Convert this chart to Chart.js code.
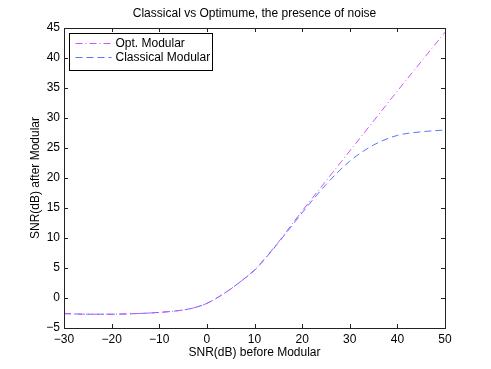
<!DOCTYPE html>
<html>
<head>
<meta charset="utf-8">
<script src="https://cdn.jsdelivr.net/npm/chart.js@4.4.1/dist/chart.umd.min.js"></script>
<style>
  html, body { margin: 0; padding: 0; background: #fff; }
  #wrap { width: 491px; height: 369px; }
</style>
</head>
<body>
<div id="wrap"><canvas id="snrChart" width="491" height="369"></canvas></div>
<script>
var chartTitle = 'Classical vs Optimume, the presence of noise';
var xTitle = 'SNR(dB) before Modular';
var yTitle = 'SNR(dB) after Modular';

var snrIn = [-30, -25, -20, -15, -10, -5, -2.5, 0, 2.5, 5, 7.5, 10, 12.5, 15, 17.5, 20, 25, 30, 35, 40, 45, 50];
var optModular = [-2.6, -2.7, -2.7, -2.6, -2.4, -2.0, -1.6, -0.9, 0.2, 1.5, 3.0, 4.7, 6.9, 9.3, 11.9, 14.5, 19.5, 24.5, 29.5, 34.5, 39.4, 44.3];
var classicalModular = [-2.6, -2.7, -2.7, -2.6, -2.4, -2.0, -1.6, -0.9, 0.2, 1.5, 3.0, 4.6, 6.8, 9.2, 11.7, 14.2, 18.9, 22.8, 25.5, 27.1, 27.7, 28.0];

var xTicks = [-30, -20, -10, 0, 10, 20, 30, 40, 50];
var yTicks = [-5, 0, 5, 10, 15, 20, 25, 30, 35, 40, 45];

var font = 'Liberation Sans, Arial, Helvetica, sans-serif';

function toPoints(ys) {
  return snrIn.map(function (x, i) { return { x: x, y: ys[i] }; });
}
function minus(v) {
  return String(v).replace('-', '\u2212');
}

// matlab style box, inward ticks, title and legend
var matlabFrame = {
  id: 'matlabFrame',
  afterDraw: function (chart) {
    var ctx = chart.ctx;
    var a = chart.chartArea;
    var xs = chart.scales.x, ys = chart.scales.y;
    ctx.save();
    ctx.strokeStyle = '#222';
    ctx.lineWidth = 1;
    ctx.beginPath();
    xTicks.forEach(function (v) {
      var px = Math.round(xs.getPixelForValue(v)) + 0.5;
      ctx.moveTo(px, a.bottom); ctx.lineTo(px, a.bottom - 4);
      ctx.moveTo(px, a.top); ctx.lineTo(px, a.top + 4);
    });
    yTicks.forEach(function (v) {
      var py = Math.round(ys.getPixelForValue(v)) + 0.5;
      ctx.moveTo(a.left, py); ctx.lineTo(a.left + 4, py);
      ctx.moveTo(a.right, py); ctx.lineTo(a.right - 4, py);
    });
    ctx.stroke();
    ctx.strokeRect(Math.round(a.left) + 0.5, Math.round(a.top) + 0.5,
      Math.round(a.right - a.left), Math.round(a.bottom - a.top));

    // title
    ctx.fillStyle = '#000';
    ctx.font = '12px ' + font;
    ctx.textAlign = 'center';
    ctx.textBaseline = 'middle';
    ctx.fillText(chartTitle, (a.left + a.right) / 2, 14);

    // legend
    var lx = Math.round(a.left) + 5.5, ly = Math.round(a.top) + 5.5;
    ctx.fillStyle = '#fff';
    ctx.fillRect(lx, ly, 143, 37);
    ctx.strokeStyle = '#000';
    ctx.strokeRect(lx, ly, 143, 37);
    chart.data.datasets.forEach(function (ds, i) {
      var y = ly + 10 + i * 14;
      ctx.strokeStyle = ds.borderColor;
      ctx.lineWidth = 1;
      ctx.setLineDash(ds.borderDash);
      ctx.beginPath();
      ctx.moveTo(lx + 6, y);
      ctx.lineTo(lx + 42, y);
      ctx.stroke();
      ctx.setLineDash([]);
      ctx.fillStyle = '#000';
      ctx.textAlign = 'left';
      ctx.fillText(ds.label, lx + 46, y);
    });
    ctx.restore();
  }
};

var snrChart = new Chart(document.getElementById('snrChart'), {
  type: 'line',
  data: {
    datasets: [{
      label: 'Opt. Modular',
      data: toPoints(optModular),
      borderColor: '#cc55ff',
      borderWidth: 1,
      borderDash: [7, 3, 1, 3],
      pointRadius: 0,
      cubicInterpolationMode: 'monotone'
    }, {
      label: 'Classical Modular',
      data: toPoints(classicalModular),
      borderColor: '#5577ff',
      borderWidth: 1,
      borderDash: [7, 4],
      pointRadius: 0,
      cubicInterpolationMode: 'monotone'
    }]
  },
  options: {
    responsive: false,
    animation: false,
    layout: {
      padding: { left: 0, right: 46, top: 28, bottom: 0 }
    },
    plugins: {
      legend: { display: false },
      tooltip: { enabled: false }
    },
    scales: {
      x: {
        type: 'linear',
        min: -30,
        max: 50,
        afterBuildTicks: function (s) { s.ticks = xTicks.map(function (v) { return { value: v }; }); },
        afterFit: function (s) { s.height = 41; },
        grid: { display: false, drawTicks: false },
        border: { display: false },
        ticks: {
          padding: 4,
          color: '#000',
          font: { family: font, size: 12 },
          maxRotation: 0,
          callback: function (v) { return minus(v); }
        },
        title: {
          display: true,
          text: xTitle,
          color: '#000',
          font: { family: font, size: 12 },
          padding: { top: 0, bottom: 9 }
        }
      },
      y: {
        type: 'linear',
        min: -5,
        max: 45,
        afterBuildTicks: function (s) { s.ticks = yTicks.map(function (v) { return { value: v }; }); },
        afterFit: function (s) { s.width = 64; },
        grid: { display: false, drawTicks: false },
        border: { display: false },
        ticks: {
          padding: 4,
          color: '#000',
          font: { family: font, size: 12 },
          callback: function (v) { return minus(v); }
        },
        title: {
          display: true,
          text: yTitle,
          color: '#000',
          font: { family: font, size: 12 },
          padding: { top: 28, bottom: 0 }
        }
      }
    }
  },
  plugins: [matlabFrame]
});
</script>
</body>
</html>
